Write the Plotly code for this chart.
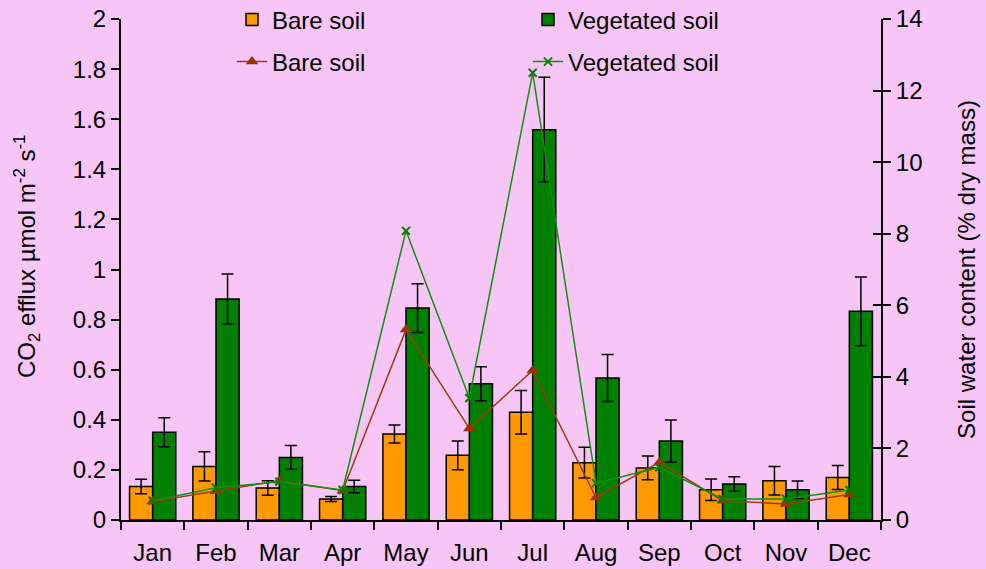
import plotly.graph_objects as go

months = ["Jan", "Feb", "Mar", "Apr", "May", "Jun", "Jul", "Aug", "Sep", "Oct", "Nov", "Dec"]

# CO2 efflux (umol m-2 s-1), mean and error
bare_efflux = [0.134, 0.214, 0.128, 0.084, 0.343, 0.258, 0.43, 0.229, 0.208, 0.121, 0.157, 0.17]
bare_err = [0.029, 0.058, 0.029, 0.010, 0.036, 0.057, 0.087, 0.061, 0.047, 0.043, 0.057, 0.048]
veg_efflux = [0.35, 0.882, 0.25, 0.134, 0.846, 0.544, 1.558, 0.567, 0.315, 0.144, 0.121, 0.833]
veg_err = [0.058, 0.10, 0.047, 0.025, 0.097, 0.068, 0.209, 0.094, 0.084, 0.029, 0.035, 0.137]

# soil water content (% dry mass)
bare_water = [0.52, 0.80, 1.10, 0.82, 5.32, 2.56, 4.18, 0.63, 1.61, 0.54, 0.45, 0.71]
veg_water = [0.54, 0.90, 1.07, 0.84, 8.08, 3.41, 12.5, 1.03, 1.47, 0.59, 0.59, 0.84]

font = "Liberation Sans, Arial, sans-serif"
bg = "#F7C6F7"
fs = 24

fig = go.Figure()

fig.add_bar(x=months, y=bare_efflux, name="Bare soil",
            marker=dict(color="#FF9900", line=dict(color="black", width=1.5)),
            error_y=dict(type="data", array=bare_err, color="black", thickness=1.5, width=6),
            legend="legend")
fig.add_bar(x=months, y=veg_efflux, name="Vegetated soil",
            marker=dict(color="#008000", line=dict(color="black", width=1.5)),
            error_y=dict(type="data", array=veg_err, color="black", thickness=1.5, width=6),
            legend="legend")

fig.add_scatter(x=months, y=bare_water, name="Bare soil", yaxis="y2", mode="lines+markers",
                line=dict(color="#A33A0A", width=1.5),
                marker=dict(symbol="triangle-up", size=11, color="#993300"),
                legend="legend2")
fig.add_scatter(x=months, y=veg_water, name="Vegetated soil", yaxis="y2", mode="lines+markers",
                line=dict(color="#109010", width=1.5),
                marker=dict(symbol="x-thin", size=8, line=dict(color="#008000", width=2)),
                legend="legend2")

axis_style = dict(showline=True, linecolor="black", linewidth=2, ticklen=8, tickwidth=2,
                  tickcolor="black", showgrid=False, zeroline=False, automargin=False,
                  tickfont=dict(size=fs))

fig.update_layout(
    width=986, height=569,
    margin=dict(l=121, r=105, t=19, b=49, autoexpand=False),
    paper_bgcolor=bg, plot_bgcolor=bg,
    font=dict(family=font, size=fs, color="black"),
    barmode="group", bargap=0.27, bargroupgap=0,
    showlegend=True,
    xaxis=dict(type="category", range=[-0.5, 11.5], ticks="outside", tickson="boundaries",
               ticklabelstandoff=10, **axis_style),
    yaxis=dict(range=[0, 2], dtick=0.2, ticks="outside", **axis_style),
    yaxis2=dict(range=[0, 14], dtick=2, overlaying="y", side="right", ticks="outside",
                title=dict(text="Soil water content (% dry mass)", font=dict(size=fs), standoff=37),
                **axis_style),
    yaxis3=dict(range=[0, 14], dtick=2, overlaying="y", side="right", ticks="inside",
                showticklabels=False, **axis_style),
    legend=dict(orientation="h", xref="container", yref="container",
                x=0.2353, y=0.965, xanchor="left", yanchor="middle",
                bgcolor="rgba(0,0,0,0)", entrywidth=251, font=dict(size=fs),
                traceorder="normal"),
    legend2=dict(orientation="h", xref="container", yref="container",
                 x=0.2353, y=0.891, xanchor="left", yanchor="middle",
                 bgcolor="rgba(0,0,0,0)", entrywidth=251, font=dict(size=fs),
                 traceorder="normal"),
)

# left axis title, placed a bit above centre as in the original
fig.add_annotation(text="CO<sub>2</sub> efflux µmol m<sup>-2</sup> s<sup>-1</sup>",
                   xref="paper", yref="paper", x=-0.1237, y=0.527, textangle=-90,
                   xanchor="center", yanchor="middle", showarrow=False,
                   font=dict(size=fs))

# empty trace so the inner right-axis ticks get drawn
fig.add_scatter(x=[months[0]], y=[None], yaxis="y3", showlegend=False, hoverinfo="skip")

fig.write_html("out.html", config={"displayModeBar": False},
               post_script="document.body.style.margin='0';")
